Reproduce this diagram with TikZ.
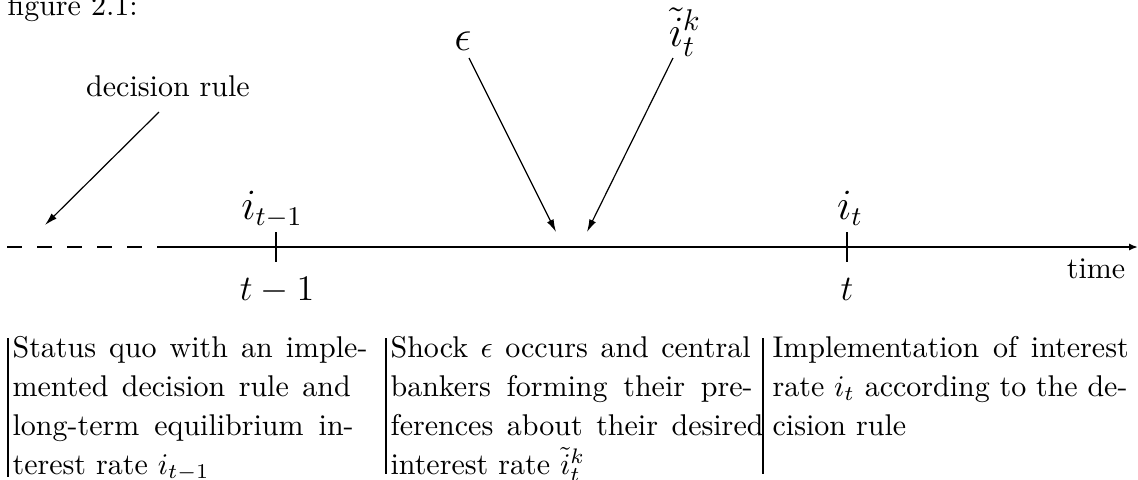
\documentclass[tikz,border=0pt]{standalone}
\usetikzlibrary{arrows.meta}
\tikzset{
  lbl/.style={inner sep=0pt, anchor=base},
  txt/.style={inner sep=0pt, anchor=base west},
  ilbl/.style={lbl, font=\fontsize{13.3}{16}\selectfont},
  thinarrow/.style={line width=0.4pt, -{Latex[length=4.2pt,width=2.4pt]}},
  axisline/.style={line width=0.6pt},
  tickline/.style={line width=0.45pt},
  colrule/.style={line width=0.4pt},
}
\begin{document}
\begin{tikzpicture}[x=0.33333pt,y=-0.33333pt]
\useasboundingbox (0,0) rectangle (1138,479);
% caption fragment
\node[txt] (fig) at (7,15) {figure 2.1:};
% axis
\coordinate (ds) at (7,247);
\coordinate (de) at (159,247);
\coordinate (ae) at (1138,247);
\draw[axisline, dash pattern=on 5pt off 5pt] (ds) -- (de);
\draw[axisline, -{Latex[length=3pt,width=2.4pt]}] (de) -- (ae);
% ticks
\coordinate (t1a) at (276,232); \coordinate (t1b) at (276,262);
\coordinate (t2a) at (847,232); \coordinate (t2b) at (847,262);
\draw[tickline] (t1a) -- (t1b);
\draw[tickline] (t2a) -- (t2b);
% axis labels
\node[ilbl] (itm) at (272,219) {$i_{t-1}$};
\node[ilbl] (it) at (850,219) {$i_t$};
\node[lbl, font=\large] (tm) at (277,300) {$t-1$};
\node[lbl, font=\large] (tt) at (847,300) {$t$};
\node[lbl] (time) at (1096,278) {time};
% decision rule
\node[lbl] (dr) at (168,96) {decision rule};
\coordinate (drs) at (159,112);
\coordinate (dre) at (45,225);
\draw[thinarrow] (drs) -- (dre);
% epsilon and desired rate
\node[lbl, font=\Large] (eps) at (463,50) {$\epsilon$};
\node[lbl, font=\Large] (ik) at (685,46) {$\tilde{i}_t^k$};
\coordinate (es) at (469,58); \coordinate (ee) at (556,232);
\coordinate (is) at (673,58); \coordinate (ie) at (587,232);
\draw[thinarrow] (es) -- (ee);
\draw[thinarrow] (is) -- (ie);
% column rules
\draw[colrule] (8,338) -- (8,477);
\draw[colrule] (386,338) -- (386,474);
\draw[colrule] (763,338) -- (763,474);
% column 1
\node[txt] (c1a) at (12,357) {\makebox[118.3pt][s]{Status quo with an imple-}};
\node[txt] (c1b) at (12,396) {\makebox[112.7pt][s]{mented decision rule and}};
\node[txt] (c1c) at (12,435) {\makebox[113.7pt][s]{long-term equilibrium in-}};
\node[txt] (c1d) at (12,474) {terest rate $i_{t-1}$};
% column 2
\node[txt] (c2a) at (390,357) {\makebox[120pt][s]{Shock $\epsilon$ occurs and central}};
\node[txt] (c2b) at (390,396) {\makebox[120.7pt][s]{bankers forming their pre-}};
\node[txt] (c2c) at (390,435) {\makebox[124.3pt][s]{ferences about their desired}};
\node[txt] (c2d) at (390,474) {interest rate $\tilde{i}_t^k$};
% column 3
\node[txt] (c3a) at (772,357) {\makebox[118.7pt][s]{Implementation of interest}};
\node[txt] (c3b) at (772,396) {\makebox[118.3pt][s]{rate $i_t$ according to the de-}};
\node[txt] (c3c) at (772,435) {cision rule};
\end{tikzpicture}
\end{document}
